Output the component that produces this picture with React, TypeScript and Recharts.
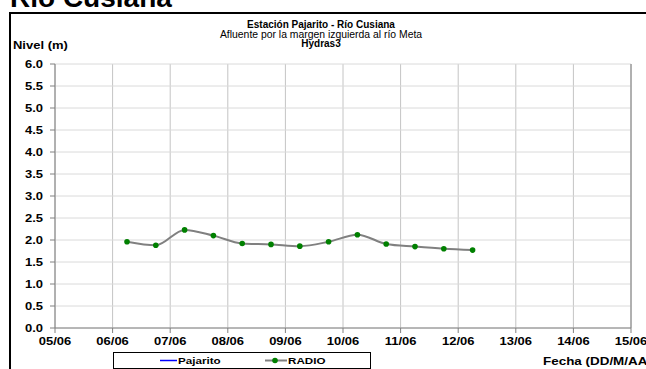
import { CartesianGrid, Line, LineChart, ReferenceLine, XAxis, YAxis } from 'recharts'

// fechas en días de junio (06/06 06:00 = 6.25)
const fechas = [6.25, 6.75, 7.25, 7.75, 8.25, 8.75, 9.25, 9.75, 10.25, 10.75, 11.25, 11.75, 12.25]
const radio = [1.96, 1.88, 2.23, 2.1, 1.92, 1.9, 1.86, 1.96, 2.12, 1.91, 1.85, 1.8, 1.77]
const diasTicks = [5, 6, 7, 8, 9, 10, 11, 12, 13, 14, 15]
const nivelTicks = [0, 0.5, 1, 1.5, 2, 2.5, 3, 3.5, 4, 4.5, 5, 5.5, 6]

const data = fechas.map((f, i) => ({ fecha: f, radio: radio[i] }))

const FUENTE = "'Liberation Sans', Arial, sans-serif"
const ESTIRA = 1.3

const TickY = ({ x, y, payload }: any) => (
    <text
        transform={`translate(${x},${y}) scale(${ESTIRA},1)`}
        textAnchor="end"
        dy="0.355em"
        fontSize={10}
        fontWeight="bold"
        fontFamily={FUENTE}
        fill="#000"
    >
        {Number(payload.value).toFixed(1)}
    </text>
)

const TickX = ({ x, y, payload }: any) => {
    const d = String(payload.value).padStart(2, '0')
    return (
        <text
            transform={`translate(${x},${y}) scale(${ESTIRA},1)`}
            textAnchor="middle"
            dy={10}
            fontSize={10}
            fontWeight="bold"
            fontFamily={FUENTE}
            fill="#000"
        >
            {d}/06
        </text>
    )
}

const Textos = () => (
    <svg
        width={646}
        height={369}
        style={{ position: 'absolute', left: 0, top: 0, pointerEvents: 'none' }}
        fontFamily={FUENTE}
    >
        <text x={10} y={7} fontSize={28} fontWeight="bold" fill="#000">
            Río Cusiana
        </text>
        <text x={321} y={28} fontSize={10} fontWeight="bold" textAnchor="middle" fill="#000">
            Estación Pajarito  - Río Cusiana
        </text>
        <text x={321} y={37.5} fontSize={10.4} textAnchor="middle" fill="#000">
            Afluente por la margen izquierda al río Meta
        </text>
        <text x={321} y={47} fontSize={10} fontWeight="bold" textAnchor="middle" fill="#000">
            Hydras3
        </text>
        <text transform="translate(13,49) scale(1.3,1)" fontSize={10} fontWeight="bold" fill="#000">
            Nivel (m)
        </text>
        <text
            transform="translate(543,365) scale(1.28,1)"
            fontSize={10.5}
            fontWeight="bold"
            fill="#000"
        >
            Fecha (DD/M/AA)
        </text>
        <rect x={113.5} y={352.5} width={257} height={16} fill="#fff" stroke="#000" />
        <line x1={160} y1={360.5} x2={177} y2={360.5} stroke="#0000ff" strokeWidth={1.5} />
        <text transform="translate(178,364) scale(1.25,1)" fontSize={9.3} fontWeight="bold" fill="#000">
            Pajarito
        </text>
        <line x1={265} y1={360.5} x2={287} y2={360.5} stroke="#808080" strokeWidth={2} />
        <circle cx={275} cy={360.5} r={2.8} fill="#008000" />
        <text transform="translate(288,364) scale(1.25,1)" fontSize={9.3} fontWeight="bold" fill="#000">
            RADIO
        </text>
    </svg>
)

export default function App() {
    return (
        <div
            style={{
                position: 'absolute',
                left: 0,
                top: 0,
                width: 646,
                height: 369,
                overflow: 'hidden',
                background: '#fff',
            }}
        >
            <div
                style={{
                    position: 'absolute',
                    left: 9,
                    top: 12,
                    width: 700,
                    height: 400,
                    border: '2px solid #000',
                    boxSizing: 'border-box',
                }}
            />
            <div style={{ position: 'absolute', left: 0, top: 0 }}>
                <LineChart
                    width={646}
                    height={369}
                    data={data}
                    margin={{ top: 64, right: 15, bottom: 11, left: 0 }}
                >
                    <CartesianGrid horizontal={false} stroke="#c4c4c4" />
                    <CartesianGrid vertical={false} stroke="#dadada" />
                    <XAxis
                        dataKey="fecha"
                        type="number"
                        domain={[5, 15]}
                        ticks={diasTicks}
                        interval={0}
                        height={30}
                        tickSize={5}
                        tickMargin={2}
                        stroke="#808080"
                        tick={<TickX />}
                    />
                    <YAxis
                        type="number"
                        domain={[0, 6]}
                        ticks={nivelTicks}
                        interval={0}
                        width={55}
                        tickSize={5}
                        tickMargin={7}
                        stroke="#808080"
                        tick={<TickY />}
                    />
                    <ReferenceLine x={15} stroke="#808080" ifOverflow="extendDomain" />
                    <Line
                        type="monotone"
                        dataKey="radio"
                        stroke="#808080"
                        strokeWidth={2}
                        dot={{ r: 2.8, fill: '#008000', stroke: 'none' }}
                        isAnimationActive={false}
                    />
                </LineChart>
            </div>
            <Textos />
        </div>
    )
}
